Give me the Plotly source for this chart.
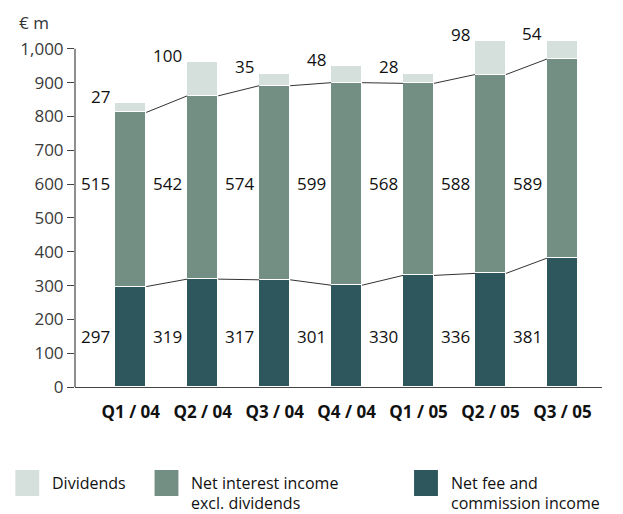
import plotly.graph_objects as go

quarters = ["Q1 / 04", "Q2 / 04", "Q3 / 04", "Q4 / 04", "Q1 / 05", "Q2 / 05", "Q3 / 05"]
fee_income = [297, 319, 317, 301, 330, 336, 381]
interest_income = [515, 542, 574, 599, 568, 588, 589]
dividends = [27, 100, 35, 48, 28, 98, 54]

C_DIV = "#d5dfdb"
C_INT = "#738f84"
C_FEE = "#2d575c"
FONT = "Open Sans"

# page body has an 8px margin, so the figure is drawn 8px smaller and
# screen coordinates are converted with OFF
OFF = 8
W, H = 623 - OFF, 514 - OFF
ML, MR, MT, MB = 72 - OFF, 21, 35 - OFF, 127
BAR_W = 0.43


def px_x(px):
    return (px - OFF - ML) / (W - ML - MR)


def px_y(py):
    return (H - MB - (py - OFF)) / (H - MT - MB)


xs = list(range(len(quarters)))
fig = go.Figure()
for name, vals, col in [
    ("Net fee and commission income", fee_income, C_FEE),
    ("Net interest income excl. dividends", interest_income, C_INT),
    ("Dividends", dividends, C_DIV),
]:
    fig.add_trace(go.Bar(x=xs, y=vals, name=name, width=BAR_W,
                         marker=dict(color=col, line=dict(color="white", width=1))))

# connector lines between bars
fee_top = fee_income
int_top = [f + i for f, i in zip(fee_income, interest_income)]
for tops in (fee_top, int_top):
    lx, ly = [], []
    for i in range(len(xs) - 1):
        lx += [xs[i] + BAR_W / 2, xs[i + 1] - BAR_W / 2, None]
        ly += [tops[i], tops[i + 1], None]
    fig.add_trace(go.Scatter(x=lx, y=ly, mode="lines",
                             line=dict(color="#333333", width=1), hoverinfo="skip"))

lab_font = dict(family=FONT, size=17, color="#111111")
for i, x in enumerate(xs):
    fig.add_annotation(x=x - BAR_W / 2, y=150, text=str(fee_income[i]), showarrow=False,
                       xanchor="right", xshift=-3, font=lab_font)
    fig.add_annotation(x=x - BAR_W / 2, y=603, text=str(interest_income[i]), showarrow=False,
                       xanchor="right", xshift=-3, font=lab_font)
    total = fee_income[i] + interest_income[i] + dividends[i]
    fig.add_annotation(x=x - BAR_W / 2, y=total, text=str(dividends[i]), showarrow=False,
                       xanchor="right", yanchor="middle", xshift=-3, yshift=7, font=lab_font)

fig.add_annotation(xref="paper", yref="paper", x=px_x(14), y=px_y(22), text="€ m",
                   showarrow=False, xanchor="left", yanchor="middle",
                   font=dict(family=FONT, size=17, color="#333333"))

# y axis line up to 1,000 only
fig.add_shape(type="line", xref="paper", yref="y", x0=0, x1=0, y0=0, y1=1000,
              line=dict(color="#444444", width=1.2))

# legend, drawn by hand for the large swatches
legend_items = [
    (12, C_DIV, ["Dividends"]),
    (152, C_INT, ["Net interest income", "excl. dividends"]),
    (413, C_FEE, ["Net fee and", "commission income"]),
]
for lx, col, lines in legend_items:
    fig.add_shape(type="rect", xref="paper", yref="paper",
                  x0=px_x(lx), x1=px_x(lx + 24), y0=px_y(470), y1=px_y(496),
                  fillcolor=col, line=dict(width=0))
    for k, txt in enumerate(lines):
        fig.add_annotation(xref="paper", yref="paper", x=px_x(lx + 36), y=px_y(483 + 20 * k),
                           text=txt, showarrow=False, xanchor="left", yanchor="middle",
                           borderpad=0, font=dict(family=FONT, size=16, color="#111111"))

fig.update_layout(
    barmode="stack",
    width=W, height=H,
    margin=dict(l=ML, r=MR, t=MT, b=MB),
    plot_bgcolor="white", paper_bgcolor="white",
    showlegend=False,
    bargap=0,
    font=dict(family=FONT),
)
fig.update_xaxes(range=[-0.775, 6.55], tickvals=xs, ticktext=quarters,
                 showline=True, linecolor="#444444", linewidth=1.2, showgrid=False,
                 zeroline=False, ticks="", ticklabelstandoff=9,
                 tickfont=dict(family=FONT, size=17, color="#111111", weight="bold"))
fig.update_yaxes(range=[0, 1041], tickvals=list(range(0, 1001, 100)), tickformat=",d",
                 showline=False, showgrid=False, zeroline=False,
                 ticks="outside", ticklen=7, tickcolor="#444444", tickwidth=1.2,
                 tickfont=dict(family=FONT, size=17, color="#3a3a3a"))

fig.write_html("out.html")
